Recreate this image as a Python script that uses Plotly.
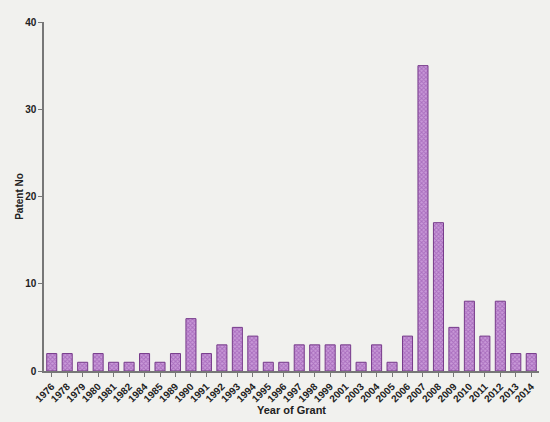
import plotly.graph_objects as go

years = ["1976", "1978", "1979", "1980", "1981", "1982", "1984", "1985", "1989", "1990",
         "1991", "1992", "1993", "1994", "1995", "1996", "1997", "1998", "1999", "2001",
         "2003", "2004", "2005", "2006", "2007", "2008", "2009", "2010", "2011", "2012",
         "2013", "2014"]
patents = [2, 2, 1, 2, 1, 1, 2, 1, 2, 6,
           2, 3, 5, 4, 1, 1, 3, 3, 3, 3,
           1, 3, 1, 4, 35, 17, 5, 8, 4, 8,
           2, 2]

bg = "#f1f1ee"

fig = go.Figure()
fig.add_trace(go.Bar(
    x=years, y=patents,
    marker=dict(
        color="#a865bd",
        line=dict(color="#763a8a", width=1),
        pattern=dict(shape="x", size=3, solidity=0.55, fgcolor="#8c44a6", bgcolor="#c99ad8"),
    ),
))

fig.update_layout(
    width=550, height=422,
    margin=dict(l=44, r=11, t=22, b=51),
    paper_bgcolor=bg, plot_bgcolor=bg,
    bargap=0.35,
    showlegend=False,
    font=dict(family="Liberation Sans, Arial", color="#222222"),
)
fig.update_xaxes(
    type="category", tickangle=-45, automargin=False,
    tickfont=dict(size=10, family="Liberation Sans, Arial", weight="bold"),
    showline=True, linecolor="#777777", linewidth=1.5,
    ticks="outside", ticklen=4, tickcolor="#777777",
    showgrid=False,
    title=dict(text="<b>Year of Grant</b>", font=dict(size=11), standoff=0),
)
fig.update_yaxes(
    range=[0, 40], tickvals=[0, 10, 20, 30, 40], automargin=False,
    tickfont=dict(size=10, family="Liberation Sans, Arial", weight="bold"),
    showline=True, linecolor="#777777", linewidth=1.5,
    ticks="outside", ticklen=4, tickcolor="#777777",
    showgrid=False, zeroline=False,
    title=dict(text="<b>Patent No</b>", font=dict(size=10), standoff=0),
)

fig.write_html("out.html", config={"displayModeBar": False},
               post_script="document.body.style.margin='0';")
